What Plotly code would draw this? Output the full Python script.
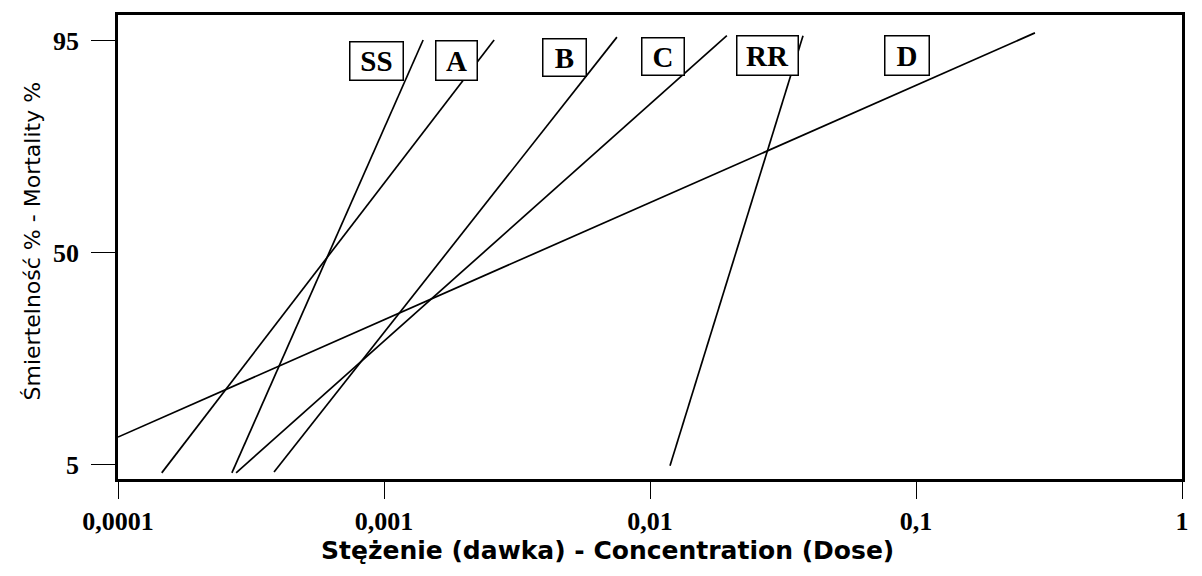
import plotly.graph_objects as go

# Dose-mortality regression lines (endpoints of each fitted line)
strains = ["SS", "A", "B", "C", "RR", "D"]
dose_start = [0.000268, 0.000146, 0.000386, 0.000278, 0.01189, 0.0001]
dose_end = [0.001403, 0.002594, 0.00751, 0.01945, 0.0376, 0.28]
mort_start = [3.2, 3.2, 3.4, 3.2, 4.7, 10.8]
mort_end = [95.1, 95.1, 95.7, 96.0, 96.0, 96.6]

# Boxed strain labels (paper coordinates and box sizes in px)
label_x = [0.2425, 0.3186, 0.4192, 0.5118, 0.6100, 0.7411]
label_y = [0.9015, 0.9015, 0.9079, 0.9101, 0.9122, 0.9122]
label_w = [52, 40, 42, 41, 60, 43]
label_h = [37, 38, 36, 36, 38, 38]

x_tickvals = [0.0001, 0.001, 0.01, 0.1, 1]
x_ticktext = ["0,0001", "0,001", "0,01", "0,1", "1"]
y_tickvals = [5, 50, 95]
y_ticktext = ["5", "50", "95"]

x_title = "Stężenie (dawka) - Concentration (Dose)"
y_title = "Śmiertelność % - Mortality %"

fig = go.Figure()
for name, x0, x1, y0, y1 in zip(strains, dose_start, dose_end, mort_start, mort_end):
    fig.add_trace(go.Scatter(
        x=[x0, x1], y=[y0, y1], mode="lines", name=name,
        line=dict(color="black", width=1.7), showlegend=False,
        hoverinfo="skip",
    ))

for name, lx, ly, w, h in zip(strains, label_x, label_y, label_w, label_h):
    fig.add_annotation(
        x=lx, y=ly, xref="paper", yref="paper", text="<b>%s</b>" % name,
        xanchor="center", yanchor="middle", align="center", valign="middle",
        width=w, height=h,
        showarrow=False, bordercolor="black", borderwidth=1.5,
        bgcolor="white", borderpad=0,
        font=dict(family="Liberation Serif", size=29, color="black"),
    )

# Axis titles placed as annotations
fig.add_annotation(
    x=0.4605, y=-0.154, xref="paper", yref="paper",
    text="<b>%s</b>" % x_title, showarrow=False,
    xanchor="center", yanchor="middle",
    font=dict(family="DejaVu Sans", size=25, color="black"),
)
fig.add_annotation(
    x=-0.0808, y=0.512, xref="paper", yref="paper",
    text=y_title, showarrow=False, textangle=-90,
    xanchor="center", yanchor="middle",
    font=dict(family="DejaVu Sans", size=22, color="black"),
)

serif = dict(family="Liberation Serif", size=26, color="black")

fig.update_layout(
    width=1202, height=576,
    margin=dict(l=118, r=20, t=12, b=97),
    paper_bgcolor="white", plot_bgcolor="white",
    xaxis=dict(
        type="log", range=[-4, 0],
        tickvals=x_tickvals, ticktext=["<b>%s</b>" % t for t in x_ticktext],
        ticks="outside", ticklen=17, tickwidth=1.2, tickcolor="black",
        tickfont=serif, showgrid=False, zeroline=False,
        showline=True, linecolor="black", linewidth=2.5, mirror=True,
    ),
    yaxis=dict(
        range=[1.9, 100.4],
        tickvals=y_tickvals, ticktext=["<b>%s</b>" % t for t in y_ticktext],
        ticks="outside", ticklen=24, tickwidth=1.2, tickcolor="black",
        tickfont=serif, showgrid=False, zeroline=False, ticklabelstandoff=7,
        showline=True, linecolor="black", linewidth=2.5, mirror=True,
    ),
)

fig.write_html("out.html")
